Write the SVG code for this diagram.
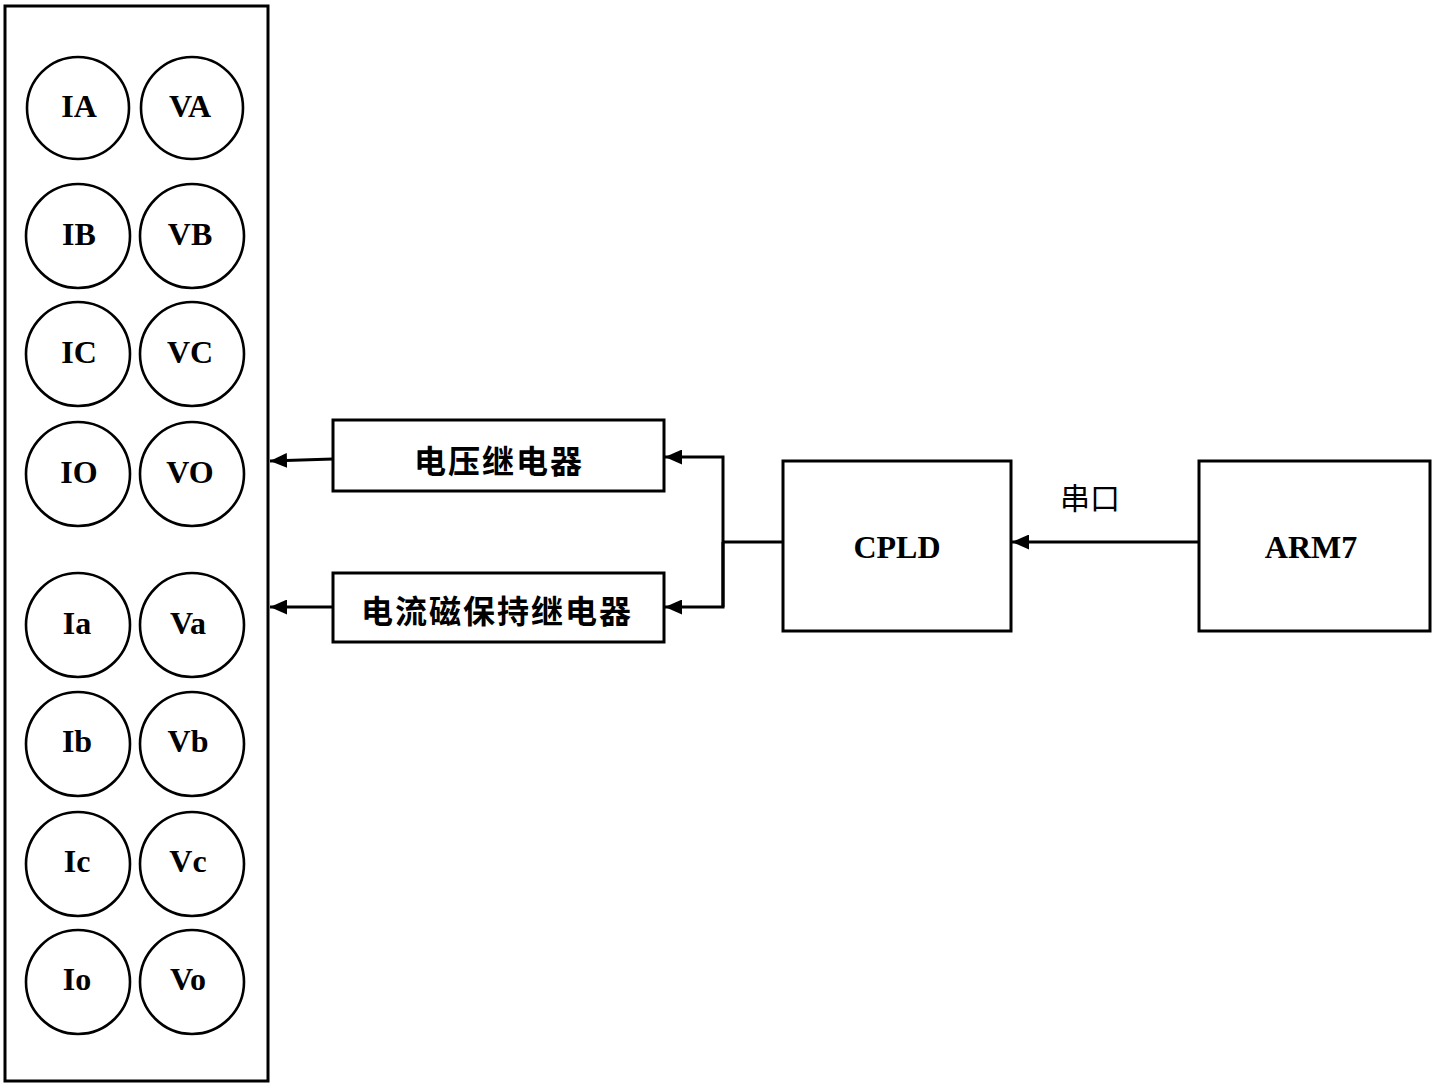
<svg xmlns="http://www.w3.org/2000/svg" width="1432" height="1084" viewBox="0 0 1432 1084">
<style>
.box{fill:#fff;stroke:#000;stroke-width:3}
.c{fill:#fff;stroke:#000;stroke-width:2.6}
.t{font-family:"Liberation Serif","Times New Roman",serif;font-weight:bold;font-size:32px;text-anchor:middle;fill:#000}
.cn{font-family:"Noto Sans CJK SC","Noto Sans",sans-serif;font-size:32px;font-weight:bold;letter-spacing:2px;text-anchor:middle;fill:#000}
.ln{fill:none;stroke:#000;stroke-width:3}
</style>
<defs>
<marker id="ah" viewBox="0 0 17 15" refX="17" refY="7.5" markerWidth="17" markerHeight="15" markerUnits="userSpaceOnUse" orient="auto">
<path d="M0,0 L17,7.5 L0,15 Z" fill="#000"/>
</marker>
</defs>
<g id="panel">
<rect class="box" x="5" y="6" width="263" height="1075"/>
</g>
<g id="IA"><circle class="c" cx="78" cy="108" r="51"/><text class="t" x="79" y="117">IA</text></g>
<g id="VA"><circle class="c" cx="192" cy="108" r="51"/><text class="t" x="190" y="117">VA</text></g>
<g id="IB"><circle class="c" cx="78" cy="236" r="52"/><text class="t" x="79" y="245">IB</text></g>
<g id="VB"><circle class="c" cx="192" cy="236" r="52"/><text class="t" x="190" y="245">VB</text></g>
<g id="IC"><circle class="c" cx="78" cy="354" r="52"/><text class="t" x="79" y="363">IC</text></g>
<g id="VC"><circle class="c" cx="192" cy="354" r="52"/><text class="t" x="190" y="363">VC</text></g>
<g id="IO"><circle class="c" cx="78" cy="474" r="52"/><text class="t" x="79" y="483">IO</text></g>
<g id="VO"><circle class="c" cx="192" cy="474" r="52"/><text class="t" x="190" y="483">VO</text></g>
<g id="Ia"><circle class="c" cx="78" cy="625" r="52"/><text class="t" x="77" y="634">Ia</text></g>
<g id="Va"><circle class="c" cx="192" cy="625" r="52"/><text class="t" x="188" y="634">Va</text></g>
<g id="Ib"><circle class="c" cx="78" cy="744" r="52"/><text class="t" x="77" y="752">Ib</text></g>
<g id="Vb"><circle class="c" cx="192" cy="744" r="52"/><text class="t" x="188" y="752">Vb</text></g>
<g id="Ic"><circle class="c" cx="78" cy="864" r="52"/><text class="t" x="77" y="872">Ic</text></g>
<g id="Vc"><circle class="c" cx="192" cy="864" r="52"/><text class="t" x="188" y="872">Vc</text></g>
<g id="Io"><circle class="c" cx="78" cy="982" r="52"/><text class="t" x="77" y="990">Io</text></g>
<g id="Vo"><circle class="c" cx="192" cy="982" r="52"/><text class="t" x="188" y="990">Vo</text></g>
<g id="relayV"><rect class="box" x="333" y="420" width="331" height="71"/><text class="cn" x="499" y="473">电压继电器</text></g>
<g id="relayI"><rect class="box" x="333" y="573" width="331" height="69"/><text class="cn" x="497" y="623">电流磁保持继电器</text></g>
<g id="CPLD"><rect class="box" x="783" y="461" width="228" height="170"/><text class="t" x="897" y="558">CPLD</text></g>
<g id="ARM7"><rect class="box" x="1199" y="461" width="231" height="170"/><text class="t" x="1311" y="558">ARM7</text></g>
<g id="connectors">
<line class="ln" x1="333" y1="459" x2="270" y2="461" marker-end="url(#ah)"/>
<line class="ln" x1="333" y1="607" x2="270" y2="607" marker-end="url(#ah)"/>
<polyline class="ln" points="783,542 723,542"/>
<polyline class="ln" points="723,607 723,457 665,457" marker-end="url(#ah)"/>
<polyline class="ln" points="723,542 723,607 665,607" marker-end="url(#ah)"/>
<line class="ln" x1="1199" y1="542" x2="1012" y2="542" marker-end="url(#ah)"/>
<text x="1090" y="509" font-family="Noto Sans CJK SC, Noto Sans, sans-serif" font-size="30" text-anchor="middle" fill="#000">串口</text>
</g>
</svg>
